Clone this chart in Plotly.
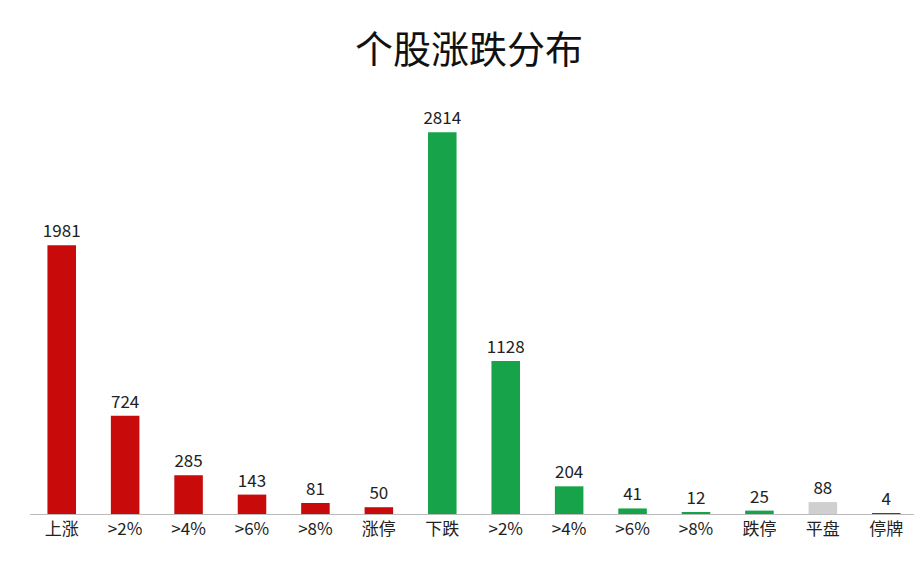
import plotly.graph_objects as go

# Categories and counts
labels = ["上涨", ">2%", ">4%", ">6%", ">8%", "涨停", "下跌", ">2%", ">4%", ">6%", ">8%", "跌停", "平盘", "停牌"]
counts = [1981, 724, 285, 143, 81, 50, 2814, 1128, 204, 41, 12, 25, 88, 4]

red = "#c80a0a"
green = "#17a34a"
colors = [red] * 6 + [green] * 6 + ["#cfcfcf", "#444444"]

x = list(range(len(labels)))

fig = go.Figure(go.Bar(
    x=x,
    y=counts,
    marker=dict(color=colors, line=dict(width=0)),
    text=[str(c) for c in counts],
    textposition="outside",
    constraintext="none",
    textfont=dict(size=17, color="#222222"),
    cliponaxis=False,
))

fig.update_layout(
    width=922, height=566,
    paper_bgcolor="white", plot_bgcolor="white",
    margin=dict(l=22, r=12, t=80, b=60),
    font=dict(family="Noto Sans CJK SC, sans-serif"),
    title=dict(text="个股涨跌分布", x=0.5, xanchor="center", y=0.95,
               font=dict(size=38, color="#111111", family="Noto Sans CJK SC")),
    bargap=0.55,
    showlegend=False,
)
fig.update_xaxes(tickvals=x, ticktext=labels, tickfont=dict(size=17, color="#222222"),
                 showline=True, linecolor="#bbbbbb", linewidth=1, ticks="",
                 range=[-0.5, len(labels) - 0.5])
fig.update_yaxes(visible=False, range=[0, 3140])

fig.write_html("out.html")
